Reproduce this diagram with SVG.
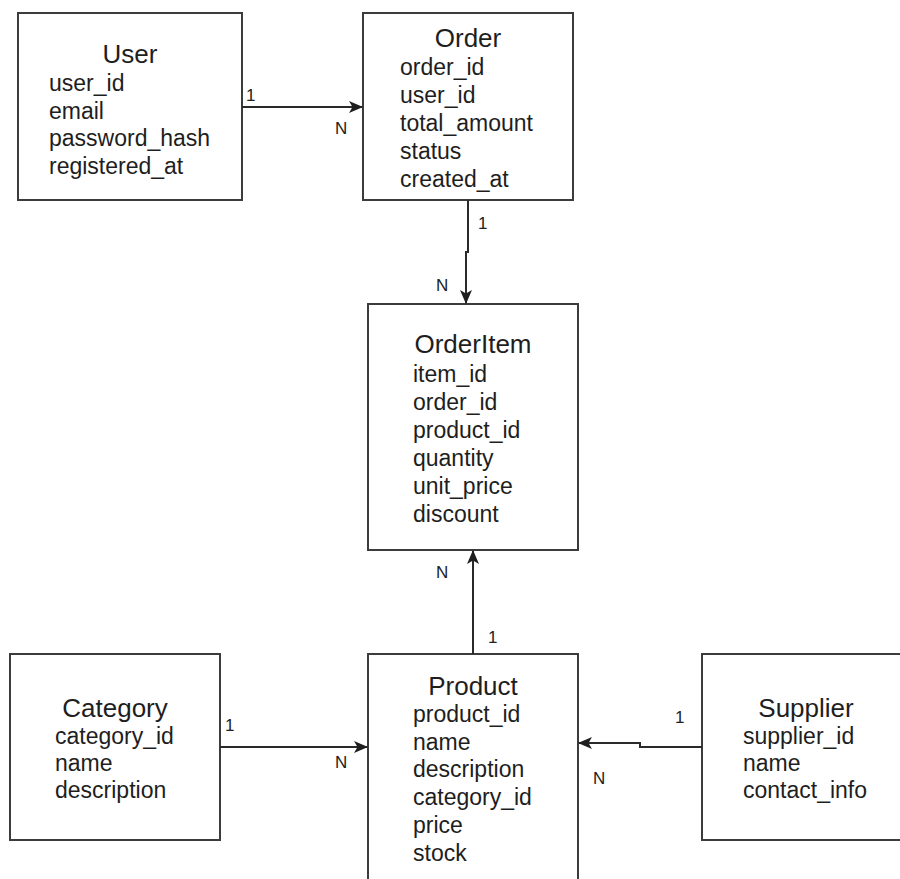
<svg xmlns="http://www.w3.org/2000/svg" width="900" height="879" viewBox="0 0 900 879">
  <style>
    .box { fill: #ffffff; stroke: #3c3c3c; stroke-width: 2; }
    .title { font-family: "Liberation Sans", Arial, sans-serif; font-size: 26px; fill: #1e1e1e; text-anchor: middle; }
    .field { font-family: "Liberation Sans", Arial, sans-serif; font-size: 23px; fill: #1e1e1e; }
    .card { font-family: "Liberation Sans", Arial, sans-serif; font-size: 17px; fill: #222222; }
    .edge { fill: none; stroke: #2a2a2a; stroke-width: 2; }
  </style>
  <defs>
    <marker id="arrow" viewBox="0 0 14 12" refX="13" refY="6" markerWidth="14" markerHeight="12" markerUnits="userSpaceOnUse" orient="auto">
      <path d="M0,0 L14,6 L0,12 L3.5,6 Z" fill="#1e1e1e"/>
    </marker>
  </defs>
  <rect width="900" height="879" fill="#ffffff"/>

  <!-- entities -->
  <g id="user">
    <rect class="box" x="18" y="13" width="224" height="187"/>
    <text class="title" x="130" y="63">User</text>
    <text class="field" x="49" y="91">user_id</text>
    <text class="field" x="49" y="118.5">email</text>
    <text class="field" x="49" y="146">password_hash</text>
    <text class="field" x="49" y="173.5">registered_at</text>
  </g>

  <g id="order">
    <rect class="box" x="363" y="13" width="210" height="187"/>
    <text class="title" x="468" y="47">Order</text>
    <text class="field" x="400" y="75">order_id</text>
    <text class="field" x="400" y="103">user_id</text>
    <text class="field" x="400" y="131">total_amount</text>
    <text class="field" x="400" y="159">status</text>
    <text class="field" x="400" y="187">created_at</text>
  </g>

  <g id="orderitem">
    <rect class="box" x="368" y="304" width="210" height="246"/>
    <text class="title" x="473" y="353">OrderItem</text>
    <text class="field" x="413" y="382">item_id</text>
    <text class="field" x="413" y="410">order_id</text>
    <text class="field" x="413" y="438">product_id</text>
    <text class="field" x="413" y="466">quantity</text>
    <text class="field" x="413" y="494">unit_price</text>
    <text class="field" x="413" y="522">discount</text>
  </g>

  <g id="product">
    <rect class="box" x="368" y="654" width="210" height="240"/>
    <text class="title" x="473" y="695">Product</text>
    <text class="field" x="413" y="722">product_id</text>
    <text class="field" x="413" y="750">name</text>
    <text class="field" x="413" y="777">description</text>
    <text class="field" x="413" y="805">category_id</text>
    <text class="field" x="413" y="833">price</text>
    <text class="field" x="413" y="861">stock</text>
  </g>

  <g id="category">
    <rect class="box" x="10" y="654" width="210" height="186"/>
    <text class="title" x="115" y="717">Category</text>
    <text class="field" x="55" y="744">category_id</text>
    <text class="field" x="55" y="771">name</text>
    <text class="field" x="55" y="798">description</text>
  </g>

  <g id="supplier">
    <rect class="box" x="702" y="654" width="210" height="186"/>
    <text class="title" x="806" y="717">Supplier</text>
    <text class="field" x="743" y="744">supplier_id</text>
    <text class="field" x="743" y="771">name</text>
    <text class="field" x="743" y="798">contact_info</text>
  </g>

  <!-- relationships -->
  <g id="connectors">
    <path class="edge" d="M242,107 L362,107" marker-end="url(#arrow)"/>
    <path class="edge" d="M468,200 L468,252 L466,252 L466,303" marker-end="url(#arrow)"/>
    <path class="edge" d="M473,654 L473,551" marker-end="url(#arrow)"/>
    <path class="edge" d="M220,747 L367,747" marker-end="url(#arrow)"/>
    <path class="edge" d="M702,747 L640,747 L640,743 L579,743" marker-end="url(#arrow)"/>

    <text class="card" x="246" y="101">1</text>
    <text class="card" x="335" y="134">N</text>
    <text class="card" x="478" y="229">1</text>
    <text class="card" x="436" y="291">N</text>
    <text class="card" x="436" y="578">N</text>
    <text class="card" x="488" y="643">1</text>
    <text class="card" x="225" y="731">1</text>
    <text class="card" x="335" y="768">N</text>
    <text class="card" x="675" y="723">1</text>
    <text class="card" x="593" y="784">N</text>
  </g>
</svg>
